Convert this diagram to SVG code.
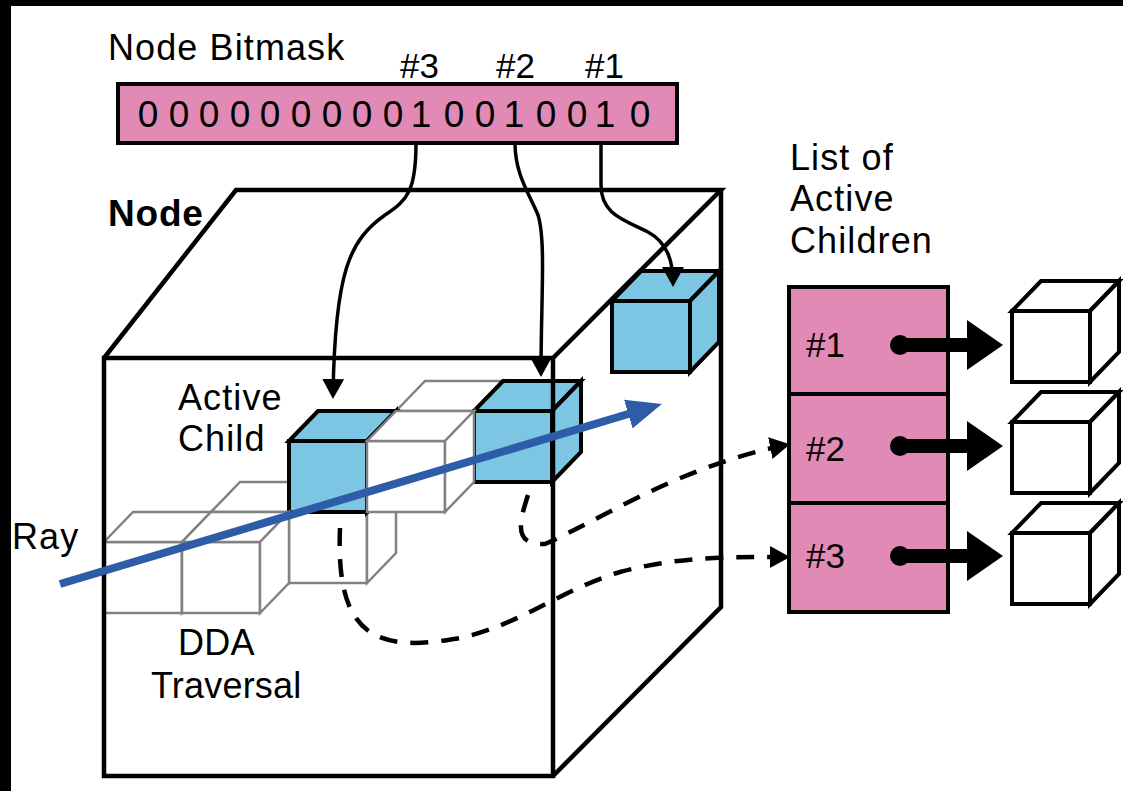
<svg xmlns="http://www.w3.org/2000/svg" xmlns:xlink="http://www.w3.org/1999/xlink" width="1123" height="791" viewBox="0 0 1123 791">
  <style>
    text { font-family: "Liberation Sans", Arial, sans-serif; fill: #000; }
    .lbl { font-size: 36px; letter-spacing: 1.1px; }
    .tight { letter-spacing: 0.2px; }
    .bold { font-size: 37px; font-weight: bold; letter-spacing: 0.8px; }
    .bits { font-size: 37px; text-anchor: middle; }
    .idx { font-size: 35px; }
    .edge { fill: none; stroke: #000; stroke-width: 4.5; stroke-linejoin: miter; }
    .grid { fill: #fff; stroke: #828282; stroke-width: 2.5; }
    .active { fill: #7cc6e3; stroke: #000; stroke-width: 4; }
    .plain { fill: #fff; stroke: #000; stroke-width: 4; }
    .pink { fill: #e08ab5; stroke: #000; stroke-width: 4; }
    .link { fill: none; stroke: #000; stroke-width: 3.5; marker-end: url(#tip); }
    .dash { fill: none; stroke: #000; stroke-width: 4.5; stroke-dasharray: 18 13; marker-end: url(#tip); }
    .ray { fill: none; stroke: #2e5ca8; stroke-width: 8; marker-end: url(#rayhead); }
  </style>
  <defs>
    <marker id="tip" viewBox="0 0 10 10" refX="8" refY="5" markerWidth="20" markerHeight="22" markerUnits="userSpaceOnUse" preserveAspectRatio="none" orient="auto">
      <path d="M0,0 L10,5 L0,10 z" fill="#000"/>
    </marker>
    <marker id="rayhead" viewBox="0 0 10 10" refX="2" refY="5" markerWidth="35" markerHeight="30" markerUnits="userSpaceOnUse" preserveAspectRatio="none" orient="auto">
      <path d="M0,0 L10,5 L0,10 z" fill="#2e5ca8"/>
    </marker>
    <!-- unit cube in oblique view, origin at the front face's top-left corner -->
    <g id="cube">
      <rect x="0" y="0" width="78" height="71"/>
      <polygon points="0,0 29,-30 107,-30 78,0"/>
      <polygon points="78,0 107,-30 107,41 78,71"/>
    </g>
    <!-- pointer from a list entry to its child: dot, shaft, head -->
    <g id="pointer">
      <circle cx="0" cy="0" r="10"/>
      <rect x="0" y="-7" width="70" height="14"/>
      <polygon points="67,-25 103,0 67,25"/>
    </g>
  </defs>

  <!-- backdrop -->
  <rect x="0" y="0" width="1123" height="791" fill="#fff"/>
  <rect x="0" y="0" width="11" height="791" fill="#000"/>
  <rect x="0" y="0" width="1123" height="6" fill="#000"/>

  <!-- node bitmask -->
  <g id="bitmask">
    <text class="lbl" x="108" y="60">Node Bitmask</text>
    <text class="idx" x="400" y="78">#3</text>
    <text class="idx" x="496" y="78">#2</text>
    <text class="idx" x="585" y="78">#1</text>
    <rect class="pink" x="118" y="84" width="559" height="59"/>
    <text class="bits" y="127">
      <tspan x="148">0</tspan><tspan x="179">0</tspan><tspan x="209">0</tspan><tspan x="240">0</tspan><tspan x="270">0</tspan><tspan x="301">0</tspan><tspan x="332">0</tspan><tspan x="362">0</tspan><tspan x="393">0</tspan><tspan x="421">1</tspan><tspan x="454">0</tspan><tspan x="485">0</tspan><tspan x="514">1</tspan><tspan x="546">0</tspan><tspan x="577">0</tspan><tspan x="605">1</tspan><tspan x="640">0</tspan>
    </text>
  </g>

  <!-- DDA traversal cells, painted back to front -->
  <g id="traversal">
    <use xlink:href="#cube" class="grid" x="396" y="411"/>
    <use xlink:href="#cube" class="active" x="474" y="411"/>
    <use xlink:href="#cube" class="grid" x="211" y="512"/>
    <use xlink:href="#cube" class="grid" x="289" y="512"/>
    <use xlink:href="#cube" class="active" x="289" y="441"/>
    <use xlink:href="#cube" class="grid" x="367" y="441"/>
    <use xlink:href="#cube" class="grid" x="104" y="542"/>
    <use xlink:href="#cube" class="grid" x="182" y="542"/>
  </g>
  <g id="child-1">
    <use xlink:href="#cube" class="active" x="612" y="301"/>
  </g>

  <!-- node volume -->
  <g id="node">
    <rect class="edge" x="104" y="358" width="449" height="418"/>
    <polyline class="edge" points="104,358 236,190 721,190 553,358"/>
    <polyline class="edge" points="721,190 721,607 553,776"/>
    <text class="bold" x="108" y="226">Node</text>
    <text class="lbl" x="178" y="410">Active</text>
    <text class="lbl" x="178" y="451">Child</text>
    <text class="lbl" x="12" y="549">Ray</text>
    <text class="lbl tight" x="178" y="655">DDA</text>
    <text class="lbl tight" x="151" y="698">Traversal</text>
  </g>

  <!-- list of active children -->
  <g id="child-list">
    <text class="lbl" x="790" y="170">List of</text>
    <text class="lbl" x="790" y="211">Active</text>
    <text class="lbl" x="790" y="253">Children</text>
    <rect class="pink" x="789" y="287" width="159" height="325"/>
    <line x1="789" y1="394" x2="948" y2="394" stroke="#000" stroke-width="4"/>
    <line x1="789" y1="503" x2="948" y2="503" stroke="#000" stroke-width="4"/>
    <text class="idx" x="806" y="357">#1</text>
    <text class="idx" x="806" y="461">#2</text>
    <text class="idx" x="806" y="568">#3</text>
  </g>
  <g id="children">
    <use xlink:href="#cube" class="plain" x="1012" y="311"/>
    <use xlink:href="#cube" class="plain" x="1012" y="422"/>
    <use xlink:href="#cube" class="plain" x="1012" y="533"/>
  </g>

  <!-- connectors -->
  <g id="connectors">
    <path class="link" d="M601,143 L601,185 C601,215 625,220 648,232 C668,243 673,262 673,283"/>
    <path class="link" d="M515,143 C515,175 530,195 538,215 C546,240 541,300 541,373"/>
    <path class="link" d="M416,143 C416,190 408,200 385,215 C350,240 335,270 333,395"/>
    <path class="dash" d="M528,495 C520,520 512,546 545,544 C600,520 680,466 786,445"/>
    <path class="dash" d="M340,528 C338,580 345,615 370,632 C395,648 430,643 460,638 C520,625 560,590 620,572 C680,556 730,557 786,557"/>
    <g fill="#000">
      <use xlink:href="#pointer" x="900" y="345"/>
      <use xlink:href="#pointer" x="900" y="446"/>
      <use xlink:href="#pointer" x="900" y="556"/>
    </g>
    <path class="ray" d="M60,584 L635,412"/>
  </g>
</svg>
